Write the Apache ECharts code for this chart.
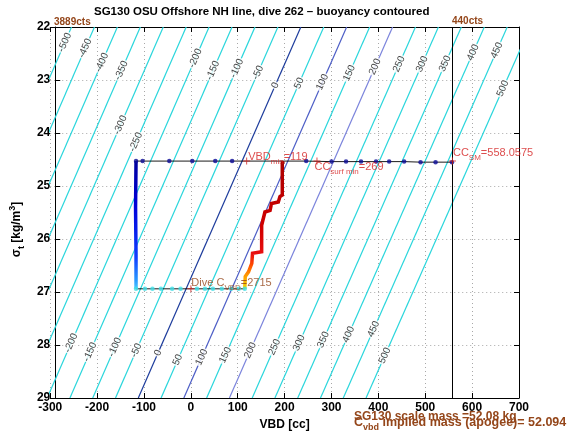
<!DOCTYPE html>
<html><head><meta charset="utf-8">
<script src="https://cdn.jsdelivr.net/npm/echarts@6/dist/echarts.min.js"></script>
<style>html,body{margin:0;padding:0;background:#fff}#c{width:569px;height:442px}</style>
</head><body><div id="c"></div>
<script>
// ---------------- data ----------------
const chartTitle = 'SG130 OSU Offshore NH line, dive 262 \u2013 buoyancy contoured';
const xMin = -300, xMax = 700, xStep = 100;
const yMin = 22, yMax = 29, yStep = 1;

// buoyancy contour levels [g] and their VBD [cc] at sigma=22 and sigma=29
const contourLevels = [-500,-450,-400,-350,-300,-250,-200,-150,-100,-50,0,50,100,150,200,250,300,350,400,450,500];
const contourVbdAtTop = [-254.6,-205.7,-156.8,-107.8,-58.9,-10.0,38.9,87.8,136.8,185.7,234.6,283.5,332.4,381.4,430.3,479.2,528.1,577.0,626.0,674.9,723.8];
const contourVbdAtBottom = [-598.1,-549.5,-500.9,-452.3,-403.7,-355.2,-306.6,-258.0,-209.4,-160.8,-112.2,-63.6,-15.0,33.6,82.2,130.8,179.3,227.9,276.5,325.1,373.7];
const contourSigmaTop = 22, contourSigmaBottom = 29;

// contour labels: level and sigma where the label sits
const labelLevels = [-500,-450,-400,-350,-300,-250,-200,-150,-100,-50,0,50,100,150,200,250,300,350,400,450,500,
                     -200,-150,-100,-50,0,50,100,150,200,250,300,350,400,450,500];
const labelSigmas = [22.29,22.40,22.67,22.82,23.85,24.17,22.59,22.82,22.78,22.86,23.10,23.06,23.04,22.87,22.75,22.70,22.70,22.69,22.48,22.44,23.16,
                     27.96,28.13,28.04,28.10,28.15,28.28,28.23,28.19,28.10,28.04,27.96,27.90,27.80,27.70,28.20];

// dive track (VBD [cc], sigma_t)
const surfVbd   = [557,522,490,455,423,395,363,331,300,246,88,52,3,-46,-103,-117];
const surfSigma = [24.55,24.55,24.55,24.54,24.54,24.54,24.54,24.54,24.54,24.53,24.53,24.53,24.53,24.53,24.53,24.53];
const descVbd   = [-117,-118,-117,-117];
const descSigma = [24.53,25.4,26.3,26.94];
const apoVbd    = [-117,-98,-82,-64,-40,-22,13,30,47,66,86,102,115];
const apoSigma  = [26.94,26.94,26.94,26.94,26.94,26.94,26.94,26.94,26.94,26.94,26.94,26.94,26.94];
const climbVbd   = [115,116,123,130,131.5,151,151,158,169,172,186.6,190,195,195,197];
const climbSigma = [26.94,26.71,26.62,26.46,26.27,26.24,25.74,25.49,25.46,25.33,25.30,25.20,25.17,24.58,24.53];

// annotated points
const ccSM = 558.0575;
const markVbd   = [119, 269, ccSM, 0];
const markSigma = [24.53, 24.53, 24.53, 26.94];
const markText  = ['{r|VBD}{rs|min}{r|=119}', '{r|CC}{rs|surf min}{r|=269}', '{r|CC}{rs|SM}{r|=558.0575}', '{b|Dive C}{bs|VBD}{b|=2715}'];

const ctsLeft = '3889cts', ctsRight = '440cts';
const massText1 = 'SG130 scale mass =52.08 kg';
const massText2 = '{b|C}{bs|vbd}{b| implied mass (apogee)= 52.094}';

// ---------------- chart ----------------
const FONT = '"Liberation Sans", Arial, Helvetica, sans-serif';
const RED = '#d42020', BROWN = '#94461a';
const chart = echarts.init(document.getElementById('c'), null, {renderer: 'canvas'});

function contourColor(lev) {
  if (lev === 0) return '#1d3c9c';
  if (lev === 100) return '#4d5ec6';
  if (lev === 200) return '#7b84dc';
  return '#2ad6dc';
}
const series = [];
contourLevels.forEach((lev, i) => {
  series.push({
    type: 'line', silent: true, z: 1, symbol: 'none', animation: false,
    data: [[contourVbdAtTop[i], contourSigmaTop], [contourVbdAtBottom[i], contourSigmaBottom]],
    lineStyle: {color: contourColor(lev), width: 1.2}
  });
});
// contour labels
const labelData = labelLevels.map((lev, k) => {
  const i = contourLevels.indexOf(lev);
  const f = (labelSigmas[k] - contourSigmaTop) / (contourSigmaBottom - contourSigmaTop);
  const v = contourVbdAtTop[i] + (contourVbdAtBottom[i] - contourVbdAtTop[i]) * f;
  return [v, labelSigmas[k], lev];
});
series.push({
  type: 'scatter', silent: true, z: 2, symbolSize: 0, animation: false,
  data: labelData,
  label: {show: true, position: 'inside', rotate: 66, formatter: p => String(p.data[2]),
          fontSize: 10, color: '#111', fontFamily: FONT, backgroundColor: '#fff', padding: [0, 1]}
});
// full track, thin black line
const track = [];
surfVbd.forEach((v, i) => track.push([v, surfSigma[i]]));
descVbd.forEach((v, i) => track.push([v, descSigma[i]]));
apoVbd.forEach((v, i) => track.push([v, apoSigma[i]]));
climbVbd.forEach((v, i) => track.push([v, climbSigma[i]]));
series.push({
  type: 'line', z: 3, symbol: 'none', animation: false, data: track,
  lineStyle: {color: '#000', width: 0.9},
  markLine: {silent: true, symbol: 'none', label: {show: false},
             lineStyle: {color: '#000', width: 1, type: 'solid'},
             data: [{xAxis: ccSM}], animation: false}
});
// surface segment dots
series.push({
  type: 'scatter', z: 4, symbolSize: 4.5, animation: false,
  data: surfVbd.map((v, i) => [v, surfSigma[i]]),
  itemStyle: {color: '#0a0a96'}
});
// descent
series.push({
  type: 'line', z: 4, symbol: 'none', animation: false,
  data: descVbd.map((v, i) => [v, descSigma[i]]),
  lineStyle: {width: 3.5, color: new echarts.graphic.LinearGradient(0, 0, 0, 1, [
    {offset: 0, color: '#00009a'}, {offset: 0.35, color: '#0000d8'},
    {offset: 0.75, color: '#1040ff'}, {offset: 0.92, color: '#2a9cff'}, {offset: 1, color: '#5ad8ff'}])}
});
// apogee dots
series.push({
  type: 'scatter', z: 4, symbolSize: 4.5, animation: false,
  data: apoVbd.map((v, i) => [v, apoSigma[i]]),
  itemStyle: {color: '#3fdfe6'}
});
// climb
series.push({
  type: 'line', z: 4, symbol: 'none', animation: false,
  data: climbVbd.map((v, i) => [v, climbSigma[i]]),
  lineStyle: {width: 3.5, join: 'miter', color: new echarts.graphic.LinearGradient(0, 0, 0, 1, [
    {offset: 0, color: '#a80000'}, {offset: 0.55, color: '#d40000'}, {offset: 0.72, color: '#e81010'},
    {offset: 0.8, color: '#ff4a00'}, {offset: 0.88, color: '#ff9a00'}, {offset: 1, color: '#f2e200'}])}
});
// annotation markers
const labOffsets = [[-4, -4], [-8, 6], [-5, -8], [-5, -6]];
const rich = {
  r: {fontSize: 11, color: RED, fontFamily: FONT},
  rs: {fontSize: 8, color: RED, fontFamily: FONT, padding: [9, 0, 0, 0]},
  b: {fontSize: 11, color: BROWN, fontFamily: FONT},
  bs: {fontSize: 8, color: BROWN, fontFamily: FONT, padding: [9, 0, 0, 0]}
};
series.push({
  type: 'scatter', z: 5, animation: false, symbolSize: 7,
  symbol: 'path://M4.3,0H5.7V4.3H10V5.7H5.7V10H4.3V5.7H0V4.3H4.3Z',
  itemStyle: {color: RED},
  data: markVbd.map((v, i) => ({value: [v, markSigma[i]],
    label: {show: true, position: 'right', distance: 2, offset: labOffsets[i],
            formatter: markText[i], rich: rich}}))
});

const axisLabelStyle = {fontSize: 12, fontWeight: 'bold', color: '#000', fontFamily: FONT};
const frameLine = {onZero: false, lineStyle: {color: '#000', width: 1}};
const option = {
  animation: false,
  backgroundColor: '#fff',
  textStyle: {fontFamily: FONT},
  title: [
    {text: chartTitle, left: 94, top: 6, padding: 0, textStyle: {fontSize: 11.5, fontWeight: 'bold', color: '#000', fontFamily: FONT}},
    {text: ctsLeft, left: 54, top: 17, padding: 0, textStyle: {fontSize: 10, fontWeight: 'bold', color: BROWN, fontFamily: FONT}},
    {text: ctsRight, left: 452, top: 16, padding: 0, textStyle: {fontSize: 10, fontWeight: 'bold', color: BROWN, fontFamily: FONT}},
    {text: massText1, left: 354, top: 411, padding: 0, textStyle: {fontSize: 12, fontWeight: 'bold', color: BROWN, fontFamily: FONT}},
    {text: massText2, left: 354, top: 413, padding: 0, textStyle: {rich: {
      b: {fontSize: 12.5, fontWeight: 'bold', color: BROWN, fontFamily: FONT},
      bs: {fontSize: 9, fontWeight: 'bold', color: BROWN, fontFamily: FONT, padding: [10, 0, 0, 0]}}}}
  ],
  grid: {left: 47, right: 50, top: 27, bottom: 44, containLabel: false},
  xAxis: [
    {type: 'value', min: xMin, max: xMax, interval: xStep, position: 'bottom',
     name: 'VBD [cc]', nameLocation: 'middle', nameGap: 16,
     nameTextStyle: {fontSize: 12, fontWeight: 'bold', color: '#000', fontFamily: FONT},
     axisLine: frameLine,
     axisTick: {inside: true, length: 5, lineStyle: {color: '#000'}},
     axisLabel: Object.assign({margin: 4}, axisLabelStyle),
     splitLine: {show: true, lineStyle: {color: '#a8a8a8', type: [1, 3], width: 1}}},
    {type: 'value', min: xMin, max: xMax, interval: xStep, position: 'top',
     axisLine: frameLine,
     axisTick: {inside: true, length: 5, lineStyle: {color: '#000'}},
     axisLabel: {show: false}, splitLine: {show: false}}
  ],
  yAxis: [
    {type: 'value', min: yMin, max: yMax, interval: yStep, inverse: true, position: 'left', offset: -5,
     name: '{a|\u03c3}{s|t}{a| [kg/m}{p|3}{a|]}', nameLocation: 'middle', nameGap: 28, nameRotate: 90,
     nameTextStyle: {padding: [0, 34, 0, 0], rich: {
       a: {fontSize: 12, fontWeight: 'bold', color: '#000', fontFamily: FONT},
       s: {fontSize: 9, fontWeight: 'bold', color: '#000', fontFamily: FONT, padding: [9, 0, 0, 0]},
       p: {fontSize: 9, fontWeight: 'bold', color: '#000', fontFamily: FONT, padding: [0, 0, 9, 0]}}},
     axisLine: frameLine,
     axisTick: {inside: true, length: 5, lineStyle: {color: '#000'}},
     axisLabel: Object.assign({margin: 5}, axisLabelStyle),
     splitLine: {show: true, lineStyle: {color: '#a8a8a8', type: [1, 3], width: 1}}},
    {type: 'value', min: yMin, max: yMax, interval: yStep, inverse: true, position: 'right',
     axisLine: frameLine,
     axisTick: {inside: true, length: 5, lineStyle: {color: '#000'}},
     axisLabel: {show: false}, splitLine: {show: false}}
  ],
  series: series
};
chart.setOption(option);
</script></body></html>
